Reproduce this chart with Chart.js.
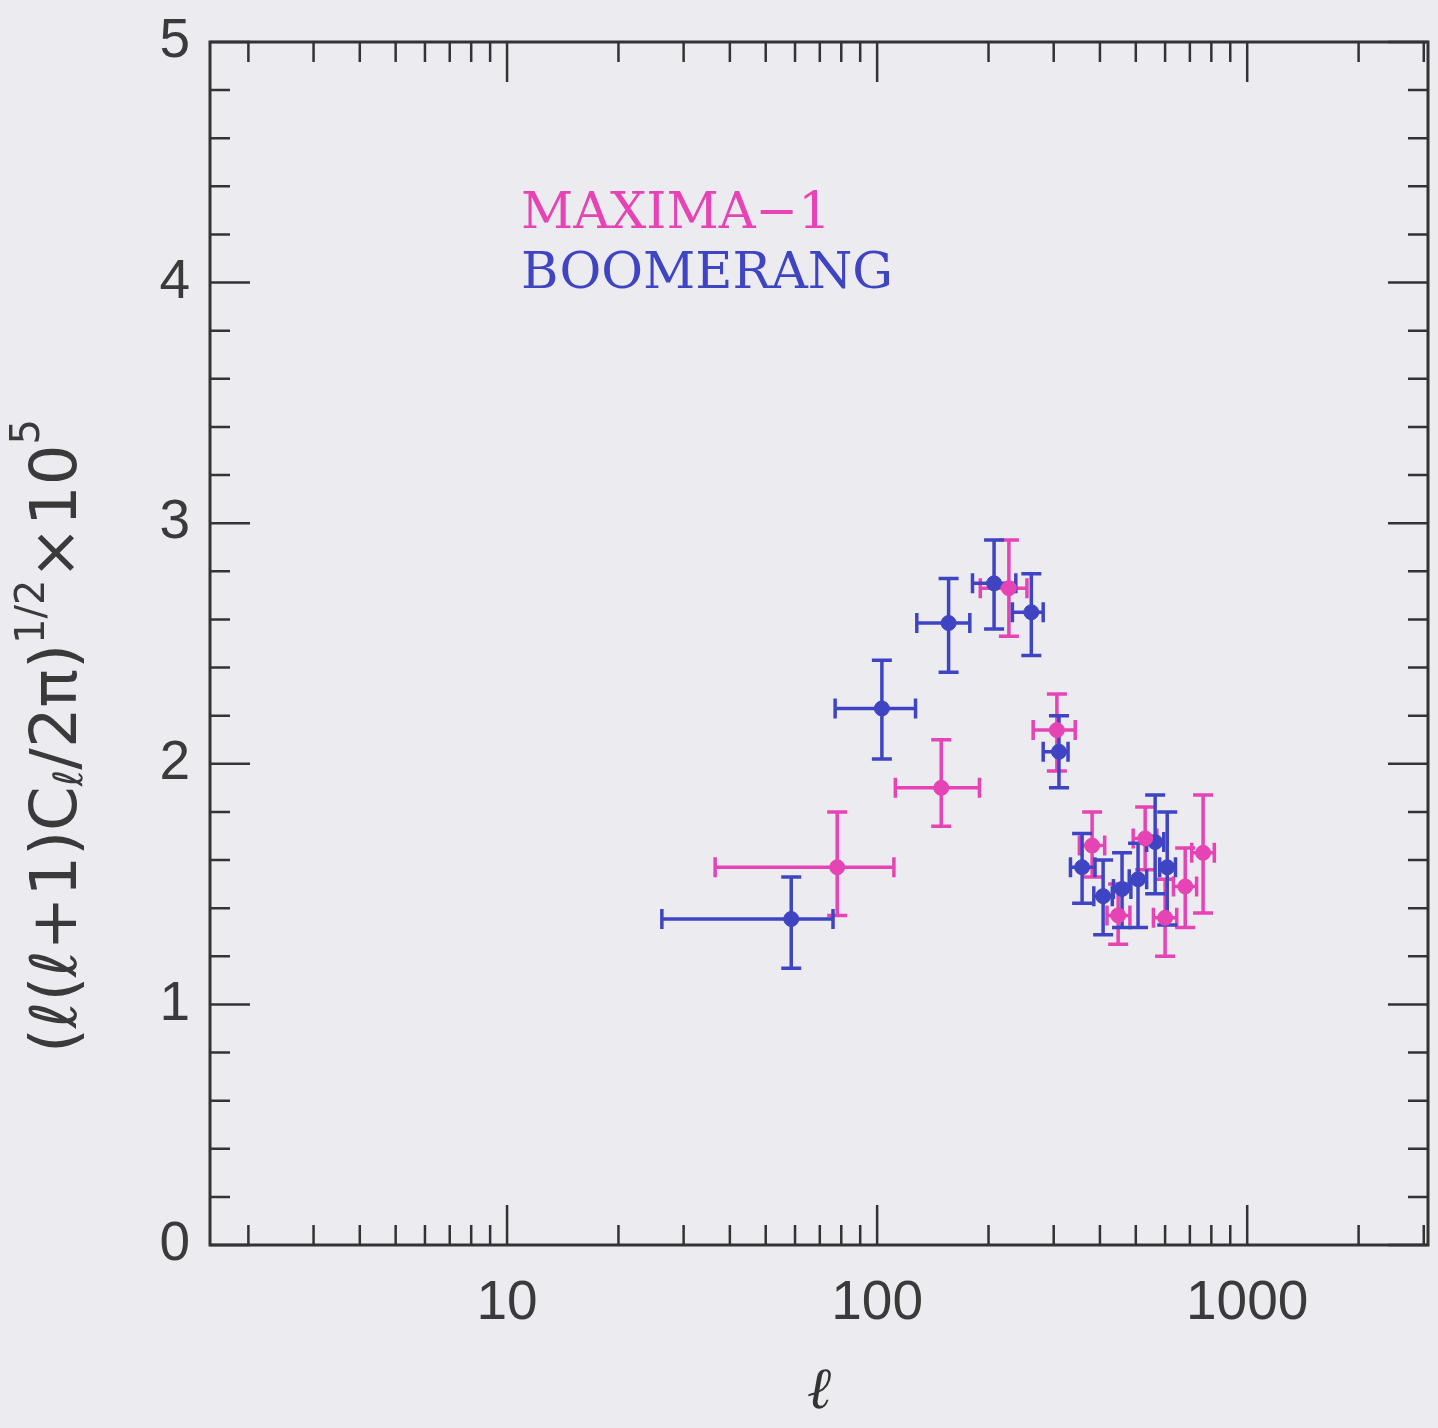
<!DOCTYPE html>
<html><head><meta charset="utf-8">
<script src="https://cdn.jsdelivr.net/npm/chart.js@4.4.1/dist/chart.umd.min.js"></script>
<style>html,body{margin:0;padding:0;background:#ecebf0;}#wrap{width:1438px;height:1428px;}</style>
</head><body><div id="wrap"><canvas id="c" width="1438" height="1428"></canvas></div>
<script>
// ---- data ----
const maximaL    = [78, 149, 227, 306, 381, 448, 530, 600, 680, 760];
const maximaLlo  = [36.5, 112, 190, 264, 352, 418, 492, 558, 632, 708];
const maximaLhi  = [111, 189, 254, 343, 412, 482, 570, 645, 730, 815];
const maximaY    = [1.57, 1.90, 2.73, 2.14, 1.66, 1.37, 1.69, 1.36, 1.49, 1.63];
const maximaYlo  = [1.37, 1.74, 2.53, 1.97, 1.53, 1.25, 1.56, 1.20, 1.32, 1.38];
const maximaYhi  = [1.80, 2.10, 2.93, 2.29, 1.80, 1.50, 1.82, 1.52, 1.65, 1.87];

const boomL   = [58.6, 103, 156, 207, 261, 310, 358, 408, 459, 507, 564, 608];
const boomLlo = [26.2, 77, 128, 181, 232, 281, 333, 385, 435, 480, 535, 580];
const boomLhi = [76, 127, 178, 237, 281, 328, 388, 432, 485, 535, 595, 640];
const boomY   = [1.355, 2.23, 2.585, 2.75, 2.63, 2.05, 1.57, 1.45, 1.48, 1.52, 1.675, 1.57];
const boomYlo = [1.15, 2.02, 2.38, 2.56, 2.45, 1.90, 1.42, 1.29, 1.32, 1.32, 1.46, 1.33];
const boomYhi = [1.53, 2.43, 2.77, 2.93, 2.79, 2.20, 1.71, 1.60, 1.63, 1.67, 1.87, 1.80];

const xMajorTicks = [10, 100, 1000];
const xMinorTicks = [2,3,4,5,6,7,8,9,20,30,40,50,60,70,80,90,200,300,400,500,600,700,800,900,2000,3000];
const yMajorTicks = [0,1,2,3,4,5];
const yMinorStep = 0.2;

const PINK = '#e644b4';
const BLUE = '#3f45c2';
const INK = '#333333';

function pts(xs, ys){ return xs.map((x,i)=>({x:x, y:ys[i]})); }

const errors = [
  {color: PINK, x: maximaL, xlo: maximaLlo, xhi: maximaLhi, y: maximaY, ylo: maximaYlo, yhi: maximaYhi},
  {color: BLUE, x: boomL, xlo: boomLlo, xhi: boomLhi, y: boomY, ylo: boomYlo, yhi: boomYhi}
];

const bgPlugin = {
  id:'bg',
  beforeDraw(chart){
    const c = chart.ctx; c.save(); c.fillStyle='#ecebf0'; c.fillRect(0,0,chart.width,chart.height); c.restore();
  }
};

const errPlugin = {
  id:'errbars',
  beforeDatasetsDraw(chart){
    const c = chart.ctx, xs = chart.scales.x, ys = chart.scales.y;
    c.save(); c.lineWidth = 3.5; c.lineCap='butt';
    errors.forEach(e=>{
      c.strokeStyle = e.color;
      for(let i=0;i<e.x.length;i++){
        const px = xs.getPixelForValue(e.x[i]), py = ys.getPixelForValue(e.y[i]);
        const x0 = xs.getPixelForValue(e.xlo[i]), x1 = xs.getPixelForValue(e.xhi[i]);
        const y0 = ys.getPixelForValue(e.ylo[i]), y1 = ys.getPixelForValue(e.yhi[i]);
        const cap = 10;
        c.beginPath();
        c.moveTo(x0,py); c.lineTo(x1,py);
        c.moveTo(x0,py-cap); c.lineTo(x0,py+cap);
        c.moveTo(x1,py-cap); c.lineTo(x1,py+cap);
        c.moveTo(px,y0); c.lineTo(px,y1);
        c.moveTo(px-cap,y0); c.lineTo(px+cap,y0);
        c.moveTo(px-cap,y1); c.lineTo(px+cap,y1);
        c.stroke();
      }
    });
    c.restore();
  }
};

const framePlugin = {
  id:'frame',
  afterDraw(chart){
    const c = chart.ctx, xs = chart.scales.x, ys = chart.scales.y, a = chart.chartArea;
    c.save();
    c.strokeStyle = INK; c.lineWidth = 3;
    c.strokeRect(a.left, a.top, a.right-a.left, a.bottom-a.top);
    c.lineWidth = 2.5;
    c.beginPath();
    const LMaj = 40, LMin = 20;
    xMajorTicks.forEach(v=>{ const p = xs.getPixelForValue(v); c.moveTo(p,a.bottom); c.lineTo(p,a.bottom-LMaj); c.moveTo(p,a.top); c.lineTo(p,a.top+LMaj); });
    xMinorTicks.forEach(v=>{ const p = xs.getPixelForValue(v); if(p>a.right+1) return; c.moveTo(p,a.bottom); c.lineTo(p,a.bottom-LMin); c.moveTo(p,a.top); c.lineTo(p,a.top+LMin); });
    for(let k=0;k<=25;k++){
      const v = k*yMinorStep; const p = ys.getPixelForValue(v);
      const L = (k%5===0)?LMaj:LMin;
      c.moveTo(a.left,p); c.lineTo(a.left+L,p); c.moveTo(a.right,p); c.lineTo(a.right-L,p);
    }
    c.stroke();

    // legend text
    c.textBaseline='alphabetic'; c.textAlign='left';
    c.font = '51px "DejaVu Serif"';
    c.fillStyle = PINK; c.fillText('MAXIMA\u22121', 521, 228);
    c.fillStyle = BLUE; c.fillText('BOOMERANG', 521, 288);

    // x title
    c.fillStyle = INK;
    c.font = 'italic 58px "DejaVu Serif"';
    c.textAlign='center'; c.textBaseline='middle';
    c.fillText('\u2113', (a.left+a.right)/2, 1393);

    // y title (rotated)
    c.translate(57, 736);
    c.rotate(-Math.PI/2);
    const big = '64px "DejaVu Sans"', small = '40px "DejaVu Sans"';
    const parts = [
      {t:'(\u2113(\u2113+1)C', f:big, dy:0},
      {t:'\u2113', f:small, dy:13},
      {t:'/2\u03c0)', f:big, dy:0},
      {t:'1/2', f:small, dy:-25},
      {t:'\u00d710', f:big, dy:0},
      {t:'5', f:small, dy:-30}
    ];
    let total = 0;
    parts.forEach(p=>{ c.font=p.f; p.w=c.measureText(p.t).width; total+=p.w; });
    let x = -total/2;
    c.textAlign='left'; c.textBaseline='middle'; c.fillStyle='#3a3a3a';
    parts.forEach(p=>{ c.font=p.f; c.fillText(p.t, x, p.dy+2); x+=p.w; });
    c.restore();
  }
};

new Chart(document.getElementById('c'), {
  type:'scatter',
  data:{ datasets:[
    {label:'MAXIMA-1', data: pts(maximaL, maximaY), backgroundColor: PINK, borderColor: PINK, pointRadius:7.5, pointHoverRadius:7.5},
    {label:'BOOMERANG', data: pts(boomL, boomY), backgroundColor: BLUE, borderColor: BLUE, pointRadius:7.5, pointHoverRadius:7.5}
  ]},
  options:{
    responsive:false, animation:false, events:[],
    layout:{autoPadding:false, padding:{top:42, right:10, left:0, bottom:0}},
    plugins:{legend:{display:false}, tooltip:{enabled:false}, title:{display:false}},
    scales:{
      x:{type:'logarithmic', min:1.575, max:3080,
        afterBuildTicks(s){ s.ticks = xMajorTicks.map(v=>({value:v})); },
        afterFit(s){ s.height = 183; },
        grid:{display:false, drawTicks:false}, border:{display:false},
        ticks:{padding:26, color:'#3a3a3a', font:{family:'"Liberation Sans"', size:55}, maxRotation:0, autoSkip:false,
          callback:(v)=> String(v)}
      },
      y:{type:'linear', min:0, max:5,
        afterBuildTicks(s){ s.ticks = yMajorTicks.map(v=>({value:v})); },
        afterFit(s){ s.width = 210; s.paddingTop = 0; s.paddingBottom = 0; },
        grid:{display:false, drawTicks:false}, border:{display:false},
        ticks:{padding:20, color:'#3a3a3a', font:{family:'"Liberation Sans"', size:55}}
      }
    }
  },
  plugins:[bgPlugin, errPlugin, framePlugin]
});
</script></body></html>
